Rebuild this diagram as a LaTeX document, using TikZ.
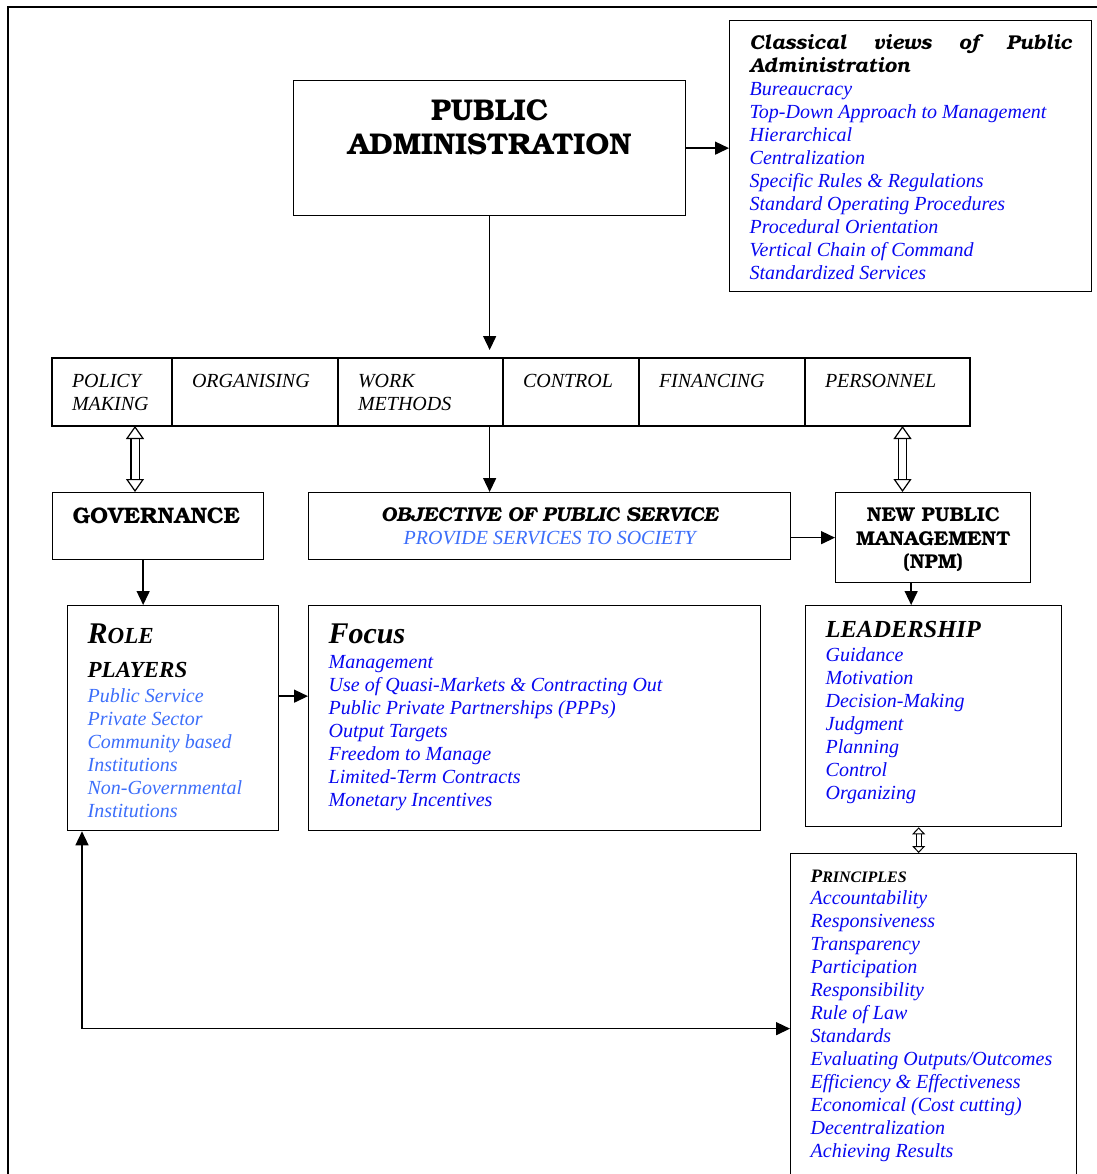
\documentclass[tikz,border=0pt]{standalone}
\usepackage{fontspec}
\setmainfont{Liberation Serif}
\newfontfamily\bkfont{TeX Gyre Bonum}
\usetikzlibrary{positioning,arrows.meta}
\definecolor{txtblue}{RGB}{8,8,240}
\definecolor{ltblue}{RGB}{60,110,250}
\setlength{\parskip}{0pt}
\newcommand{\boxtext}[3]{\parbox[c][#2][t]{#1}{#3}}
\tikzset{
    %Define standard arrow tip
    >={Triangle[length=14pt,width=13pt]},
    %Define style for boxes
    kast/.style={
           rectangle,
           draw=black, line width=1.3pt,
           inner xsep=20pt, inner ysep=0pt,
           anchor=north west,
           font=\fontsize{20}{23}\selectfont},
    cel/.style={kast, outer sep=0pt, font=\fontsize{20}{23}\selectfont\itshape},
    % Define arrow styles
    pil/.style={->, line width=1.4pt},
    hol/.style={double, double distance=7pt, line width=1.2pt,
           {Triangle[open,length=13pt,width=18pt]}-{Triangle[open,length=13pt,width=18pt]}},
    holsmall/.style={double, double distance=4pt, line width=1pt,
           {Triangle[open,length=7pt,width=13pt]}-{Triangle[open,length=7pt,width=13pt]}}
}

\begin{document}
\begin{tikzpicture}[x=1pt,y=-1pt]
\useasboundingbox (0,0) rectangle (1096,1174);
\draw[line width=2.2pt] (8,7) rectangle (1140,1220);

\node[kast] (pa) at (293,80) {\boxtext{352pt}{135pt}{\centering\bkfont\bfseries\fontsize{30}{34}\selectfont\rule{0pt}{40pt}PUBLIC\\ADMINISTRATION}};
\node[kast] (cls) at (729,20) {\boxtext{322pt}{271pt}{{\bkfont\bfseries\itshape\rule{0pt}{29pt}Classical views of Public\linebreak Administration\par}
  \noindent\color{txtblue}\itshape Bureaucracy\\Top-Down Approach to Management\\Hierarchical\\Centralization\\Specific Rules \& Regulations\\Standard Operating Procedures\\Procedural Orientation\\Vertical Chain of Command\\Standardized Services}};

% functions row
\node[cel] (pm) at (52,358) {\boxtext{80pt}{68pt}{\rule{0pt}{29pt}POLICY\\MAKING}};
\node[cel, right=0pt of pm] (org) {\boxtext{126pt}{68pt}{\rule{0pt}{29pt}ORGANISING}};
\node[cel, right=0pt of org] (wm) {\boxtext{125pt}{68pt}{\rule{0pt}{29pt}WORK\\METHODS}};
\node[cel, right=0pt of wm] (ctl) {\boxtext{96pt}{68pt}{\rule{0pt}{29pt}CONTROL}};
\node[cel, right=0pt of ctl] (fin) {\boxtext{126pt}{68pt}{\rule{0pt}{29pt}FINANCING}};
\node[cel, right=0pt of fin] (pers) {\boxtext{125pt}{68pt}{\rule{0pt}{29pt}PERSONNEL}};

\node[kast] (gov) at (52,492) {\boxtext{171pt}{67pt}{\bkfont\bfseries\fontsize{22.5}{25}\selectfont\rule{0pt}{31pt}GOVERNANCE}};
\node[kast] (obj) at (308,492) {\boxtext{442pt}{67pt}{\centering{\bkfont\bfseries\itshape\fontsize{20}{23}\selectfont\rule{0pt}{29pt}OBJECTIVE OF PUBLIC SERVICE}\\{\color{ltblue}\itshape PROVIDE SERVICES TO SOCIETY}}};
\node[kast, inner xsep=5pt] (npm) at (835,492) {\boxtext{185pt}{90pt}{\centering\bkfont\bfseries\fontsize{20}{23.5}\selectfont\rule{0pt}{29pt}NEW PUBLIC\\MANAGEMENT\\(NPM)}};

\node[kast] (role) at (67,605) {\boxtext{171pt}{225pt}{\bfseries\itshape\rule{0pt}{38pt}{\fontsize{30}{30}\selectfont R}{\fontsize{23}{23}\selectfont OLE}\\[11pt]{\fontsize{23}{23}\selectfont PLAYERS}\\[2pt]\mdseries\color{ltblue}Public Service\\Private Sector\\Community based\\Institutions\\Non-Governmental\\Institutions}};
\node[kast] (focus) at (308,605) {\boxtext{412pt}{225pt}{{\bfseries\itshape\fontsize{30}{30}\selectfont\rule{0pt}{38pt}Focus}\\[2pt]\color{txtblue}\itshape Management\\Use of Quasi-Markets \& Contracting Out\\Public Private Partnerships (PPPs)\\Output Targets\\Freedom to Manage\\Limited-Term Contracts\\Monetary Incentives}};
\node[kast] (lead) at (805,605) {\boxtext{216pt}{221pt}{{\bfseries\itshape\fontsize{24.5}{24}\selectfont\rule{0pt}{32pt}LEADERSHIP}\\[1pt]\color{txtblue}\itshape Guidance\\Motivation\\Decision-Making\\Judgment\\Planning\\Control\\Organizing}};
\node[kast] (prin) at (790,853) {\boxtext{246pt}{350pt}{{\bfseries\itshape\rule{0pt}{29pt}{\fontsize{19}{19}\selectfont P}{\fontsize{16}{16}\selectfont RINCIPLES}}\\[-1pt]\color{txtblue}\itshape Accountability\\Responsiveness\\Transparency\\Participation\\Responsibility\\Rule of Law\\Standards\\Evaluating Outputs/Outcomes\\Efficiency \& Effectiveness\\Economical (Cost cutting)\\Decentralization\\Achieving Results}};

\draw[pil] (pa.east) -- (pa.east -| cls.west);
\draw[pil, shorten >=8pt] (pa.south) -- (pa.south |- wm.north);
\draw[hol] ([xshift=23pt]pm.south) -- ([xshift=23pt]pm.south |- gov.north);
\draw[pil] (pa.south |- wm.south) -- (pa.south |- obj.north);
\draw[hol] ([xshift=15pt]pers.south) -- ([xshift=15pt]pers.south |- npm.north);
\draw[pil] (npm.west -| obj.east) -- (npm.west);
\draw[pil] ([xshift=-15pt]gov.south) -- ([xshift=-15pt]gov.south |- role.north);
\draw[pil] ([yshift=22pt]role.east) -- ([yshift=22pt]role.east -| focus.west);
\draw[pil] ([xshift=-22pt]npm.south) -- ([xshift=-22pt]npm.south |- lead.north);
\draw[holsmall] ([xshift=-15pt]lead.south) -- ([xshift=-15pt]lead.south |- prin.north);
\draw[pil,<->] ([xshift=15pt]role.south west) |- (prin.west);
\end{tikzpicture}
\end{document}
